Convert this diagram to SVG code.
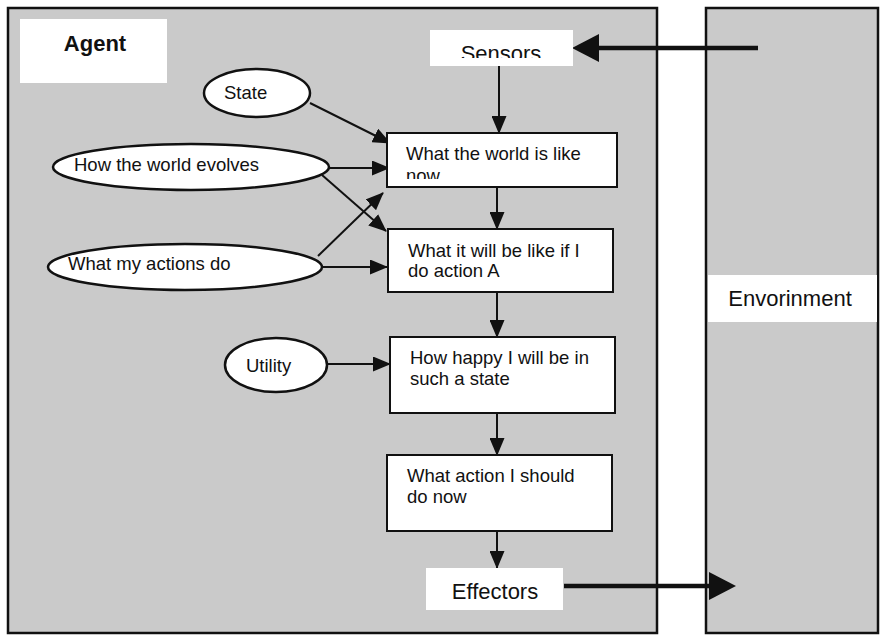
<svg xmlns="http://www.w3.org/2000/svg" width="881" height="637" viewBox="0 0 881 637">
  <style>
    .panel { fill: #cacaca; stroke: #111; stroke-width: 2.5; }
    .label { fill: #fff; stroke: none; }
    .box { fill: #fff; stroke: #111; stroke-width: 2; }
    .oval { fill: #fff; stroke: #111; stroke-width: 2.5; }
    .t { font-family: "Liberation Sans", Arial, sans-serif; font-size: 18.5px; fill: #111; }
    .big { font-family: "Liberation Sans", Arial, sans-serif; font-size: 22px; fill: #111; }
    .bold { font-weight: bold; }
    .edge { stroke: #111; stroke-width: 2; fill: none; marker-end: url(#head); }
    .thick { stroke: #111; stroke-width: 4.5; fill: none; marker-end: url(#bighead); }
  </style>
  <defs>
    <marker id="head" markerUnits="userSpaceOnUse" markerWidth="18" markerHeight="15" refX="17" refY="7.5" orient="auto">
      <path d="M0,0 L18,7.5 L0,15 z" fill="#111"/>
    </marker>
    <!-- the line stops 20px short; the head reaches past it to the tip -->
    <marker id="bighead" markerUnits="userSpaceOnUse" markerWidth="27" markerHeight="28" refX="7" refY="14" orient="auto">
      <path d="M0,0 L27,14 L0,28 z" fill="#111"/>
    </marker>
    <clipPath id="clipSensors"><rect x="430" y="30" width="143" height="28"/></clipPath>
    <clipPath id="clipWorld"><rect x="388" y="134" width="228" height="45"/></clipPath>
  </defs>

  <rect x="0" y="0" width="881" height="637" fill="#fff"/>

  <!-- the two framed regions -->
  <g id="agent-panel">
    <rect class="panel" x="8" y="8" width="649" height="625"/>
    <rect class="label" x="20" y="19" width="147" height="64"/>
    <text class="big bold" x="95" y="51" text-anchor="middle">Agent</text>
  </g>
  <g id="environment-panel">
    <rect class="panel" x="706" y="8" width="172" height="625"/>
    <rect class="label" x="708" y="275" width="169" height="47"/>
    <text class="big" x="790" y="306" text-anchor="middle" font-size="21.5">Envorinment</text>
  </g>

  <!-- connectors -->
  <g id="connectors">
    <line class="thick" x1="758" y1="48" x2="592" y2="48"/>
    <line class="thick" x1="564" y1="586" x2="716" y2="586"/>
    <line class="edge" x1="499" y1="66" x2="499" y2="133"/>
    <line class="edge" x1="497" y1="187" x2="497" y2="229"/>
    <line class="edge" x1="497" y1="292" x2="497" y2="337"/>
    <line class="edge" x1="497" y1="413" x2="497" y2="455"/>
    <line class="edge" x1="497" y1="531" x2="497" y2="568"/>
    <line class="edge" x1="310" y1="103" x2="390" y2="143"/>
    <line class="edge" x1="328" y1="168" x2="389" y2="168"/>
    <line class="edge" x1="322" y1="175" x2="386" y2="231"/>
    <line class="edge" x1="318" y1="256" x2="383" y2="193"/>
    <line class="edge" x1="322" y1="267" x2="387" y2="267"/>
    <line class="edge" x1="327" y1="364" x2="390" y2="364"/>
  </g>

  <!-- input ovals -->
  <g id="state">
    <ellipse class="oval" cx="257" cy="93" rx="53" ry="24"/>
    <text class="t" x="224" y="99">State</text>
  </g>
  <g id="world-evolves">
    <ellipse class="oval" cx="191" cy="167" rx="138" ry="23"/>
    <text class="t" x="74" y="171">How the world evolves</text>
  </g>
  <g id="actions-do">
    <ellipse class="oval" cx="185" cy="267" rx="137" ry="23"/>
    <text class="t" x="68" y="270">What my actions do</text>
  </g>
  <g id="utility">
    <ellipse class="oval" cx="276" cy="365" rx="51" ry="27"/>
    <text class="t" x="246" y="372">Utility</text>
  </g>

  <!-- processing chain -->
  <g id="sensors">
    <rect class="label" x="430" y="30" width="143" height="36"/>
    <text class="big" x="501" y="61" text-anchor="middle" clip-path="url(#clipSensors)">Sensors</text>
  </g>
  <g id="world-now">
    <rect class="box" x="387" y="133" width="230" height="54"/>
    <g clip-path="url(#clipWorld)">
      <text class="t" x="406" y="160">What the world is like</text>
      <text class="t" x="406" y="182">now</text>
    </g>
  </g>
  <g id="if-action">
    <rect class="box" x="388" y="229" width="225" height="63"/>
    <text class="t" x="408" y="257">What it will be like if I</text>
    <text class="t" x="408" y="277">do action A</text>
  </g>
  <g id="how-happy">
    <rect class="box" x="390" y="337" width="225" height="76"/>
    <text class="t" x="410" y="364">How happy I will be in</text>
    <text class="t" x="410" y="385">such a state</text>
  </g>
  <g id="which-action">
    <rect class="box" x="387" y="455" width="225" height="76"/>
    <text class="t" x="407" y="482">What action I should</text>
    <text class="t" x="407" y="503">do now</text>
  </g>
  <g id="effectors">
    <rect class="label" x="426" y="568" width="137" height="42"/>
    <text class="big" x="495" y="599" text-anchor="middle">Effectors</text>
  </g>
</svg>
